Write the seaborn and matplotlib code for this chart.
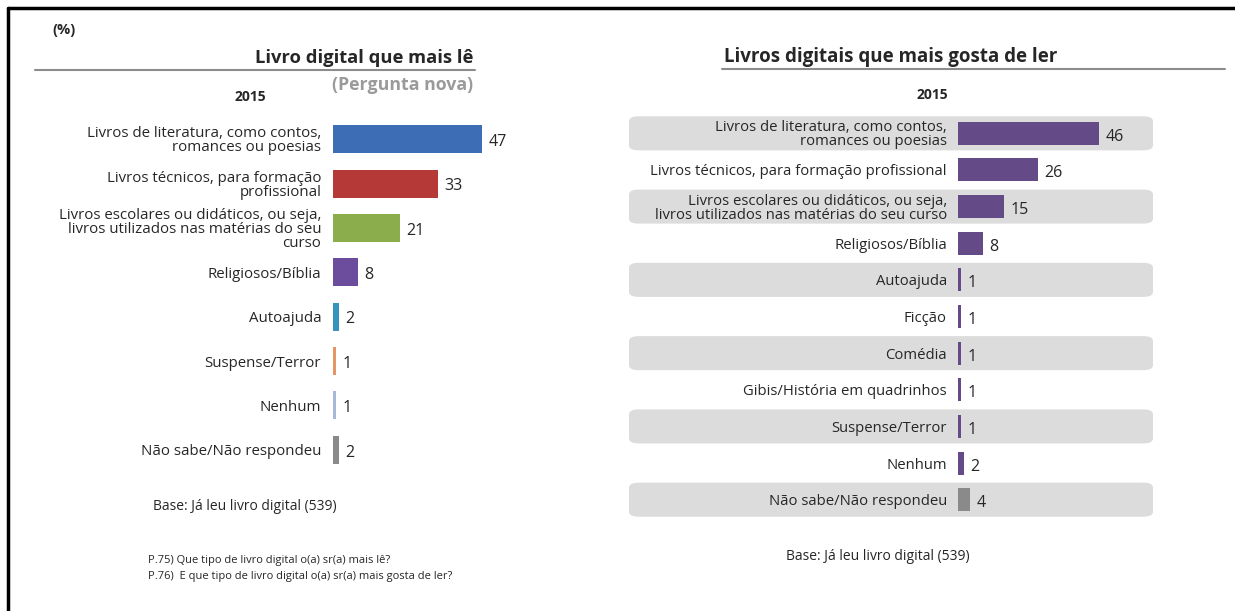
import matplotlib
matplotlib.use("Agg")
import matplotlib.pyplot as plt
from matplotlib.patches import FancyBboxPatch
from matplotlib.lines import Line2D
import seaborn as sns
import pandas as pd

# Livro digital que mais lê (P.75)
le_categorias = [
    "Livros de literatura, como contos,\nromances ou poesias",
    "Livros técnicos, para formação\nprofissional",
    "Livros escolares ou didáticos, ou seja,\nlivros utilizados nas matérias do seu\ncurso",
    "Religiosos/Bíblia",
    "Autoajuda",
    "Suspense/Terror",
    "Nenhum",
    "Não sabe/Não respondeu",
]
le_valores = [47, 33, 21, 8, 2, 1, 1, 2]
le_cores = ["#3d6db5", "#b53a37", "#8bad4c", "#6c4c9c", "#3795bb", "#e59566", "#a8b8d8", "#8a8a8a"]

# Livros digitais que mais gosta de ler (P.76)
gosta_categorias = [
    "Livros de literatura, como contos,\nromances ou poesias",
    "Livros técnicos, para formação profissional",
    "Livros escolares ou didáticos, ou seja,\nlivros utilizados nas matérias do seu curso",
    "Religiosos/Bíblia",
    "Autoajuda",
    "Ficção",
    "Comédia",
    "Gibis/História em quadrinhos",
    "Suspense/Terror",
    "Nenhum",
    "Não sabe/Não respondeu",
]
gosta_valores = [46, 26, 15, 8, 1, 1, 1, 1, 1, 2, 4]
gosta_cores = ["#654a88"] * 10 + ["#8a8a8a"]

W, H = 1235, 611
sns.set_theme(style="white")
plt.rcParams["font.family"] = ["Open Sans", "DejaVu Sans"]

fig = plt.figure(figsize=(W / 100, H / 100), dpi=100)


def px_axes(x0, y0, x1, y1):
    """Create axes from pixel box (top-left origin)."""
    return fig.add_axes([x0 / W, 1 - y1 / H, (x1 - x0) / W, (y1 - y0) / H])


def fx(x):
    return x / W


def fy(y):
    return 1 - y / H


TXT = "#262626"

# ---------- left panel ----------
ax1 = px_axes(333, 117, 533, 472)
df1 = pd.DataFrame({"cat": le_categorias, "val": le_valores})
sns.barplot(data=df1, x="val", y="cat", hue="cat", palette=le_cores,
            legend=False, width=0.63, ax=ax1, saturation=1, linewidth=0)
ax1.set_xlim(0, 200 / (149 / 47))
ax1.set_ylim(len(le_valores) - 0.5, -0.5)
for c in ax1.containers:
    for t in ax1.bar_label(c, fontsize=11.5, color=TXT):
        t.xyann = (4.5, -2)
ax1.set_xlabel("")
ax1.set_ylabel("")
ax1.set_xticks([])
ax1.tick_params(axis="y", length=0, pad=8.5)
for lab in ax1.get_yticklabels():
    lab.set_fontsize(10.8)
    lab.set_color(TXT)
    lab.set_linespacing(0.92)
    lab.set_horizontalalignment("right")
sns.despine(ax=ax1, left=True, bottom=True)

# ---------- right panel ----------
ax2 = px_axes(958, 115, 1152, 518)
df2 = pd.DataFrame({"cat": gosta_categorias, "val": gosta_valores})
sns.barplot(data=df2, x="val", y="cat", hue="cat", palette=gosta_cores,
            legend=False, width=0.63, ax=ax2, saturation=1, linewidth=0)
ax2.set_xlim(0, 194 / (141 / 46))
ax2.set_ylim(len(gosta_valores) - 0.5, -0.5)
for c in ax2.containers:
    for t in ax2.bar_label(c, fontsize=11.5, color=TXT):
        t.xyann = (4.5, -2.5)
ax2.set_xlabel("")
ax2.set_ylabel("")
ax2.set_xticks([])
ax2.tick_params(axis="y", length=0, pad=8)
for lab in ax2.get_yticklabels():
    lab.set_fontsize(10.7)
    lab.set_color(TXT)
    lab.set_linespacing(0.92)
sns.despine(ax=ax2, left=True, bottom=True)

# shaded bands behind alternate rows
fig.canvas.draw()
row_h = (518 - 115) / len(gosta_valores)
for i in range(0, len(gosta_valores), 2):
    yc = ax2.transData.transform((0, i))[1]  # display pixels from bottom
    band_h = row_h * 0.93
    band = FancyBboxPatch((fx(629), (yc - band_h / 2) / H), fx(1153 - 629), band_h / H,
                          boxstyle="round,pad=0,rounding_size=0.008",
                          transform=fig.transFigure, facecolor="#dcdcdc",
                          edgecolor="none", zorder=-1)
    fig.patches.append(band)
ax2.patch.set_alpha(0)
ax1.patch.set_alpha(0)
for bar in ax2.patches:
    bar.set_zorder(3)

# ---------- titles and notes ----------
fig.text(fx(64), fy(30), "(%)", ha="center", va="center", fontsize=10.5,
         fontweight="bold", color=TXT)
fig.text(fx(473), fy(58), "Livro digital que mais lê", ha="right", va="center",
         fontsize=13.2, fontweight="bold", color=TXT)
fig.add_artist(Line2D([fx(35), fx(475)], [fy(70), fy(70)], color="#8c8c8c", lw=1.5))
fig.text(fx(473), fy(85), "(Pergunta nova)", ha="right", va="center",
         fontsize=12.8, fontweight="bold", color="#9a9a9a")
fig.text(fx(250), fy(97), "2015", ha="center", va="center", fontsize=10,
         fontweight="bold", color=TXT)

fig.text(fx(724), fy(57), "Livros digitais que mais gosta de ler", ha="left",
         va="center", fontsize=13.5, fontweight="bold", color=TXT)
fig.add_artist(Line2D([fx(722), fx(1225)], [fy(69), fy(69)], color="#8c8c8c", lw=1.5))
fig.text(fx(932), fy(95), "2015", ha="center", va="center", fontsize=10,
         fontweight="bold", color=TXT)

fig.text(fx(153), fy(506), "Base: Já leu livro digital (539)", ha="left", va="center",
         fontsize=10, color=TXT)
fig.text(fx(148), fy(560), "P.75) Que tipo de livro digital o(a) sr(a) mais lê?",
         ha="left", va="center", fontsize=8, color=TXT)
fig.text(fx(148), fy(577), "P.76)  E que tipo de livro digital o(a) sr(a) mais gosta de ler?",
         ha="left", va="center", fontsize=8, color=TXT)
fig.text(fx(878), fy(557), "Base: Já leu livro digital (539)", ha="center", va="center",
         fontsize=10, color=TXT)

# frame lines along the top and left edges
fig.add_artist(Line2D([fx(8), fx(W)], [fy(8), fy(8)], color="black", lw=2.5))
fig.add_artist(Line2D([fx(8), fx(8)], [fy(8), fy(H)], color="black", lw=2.5))

fig.savefig("out.png", dpi=100, facecolor="white")
